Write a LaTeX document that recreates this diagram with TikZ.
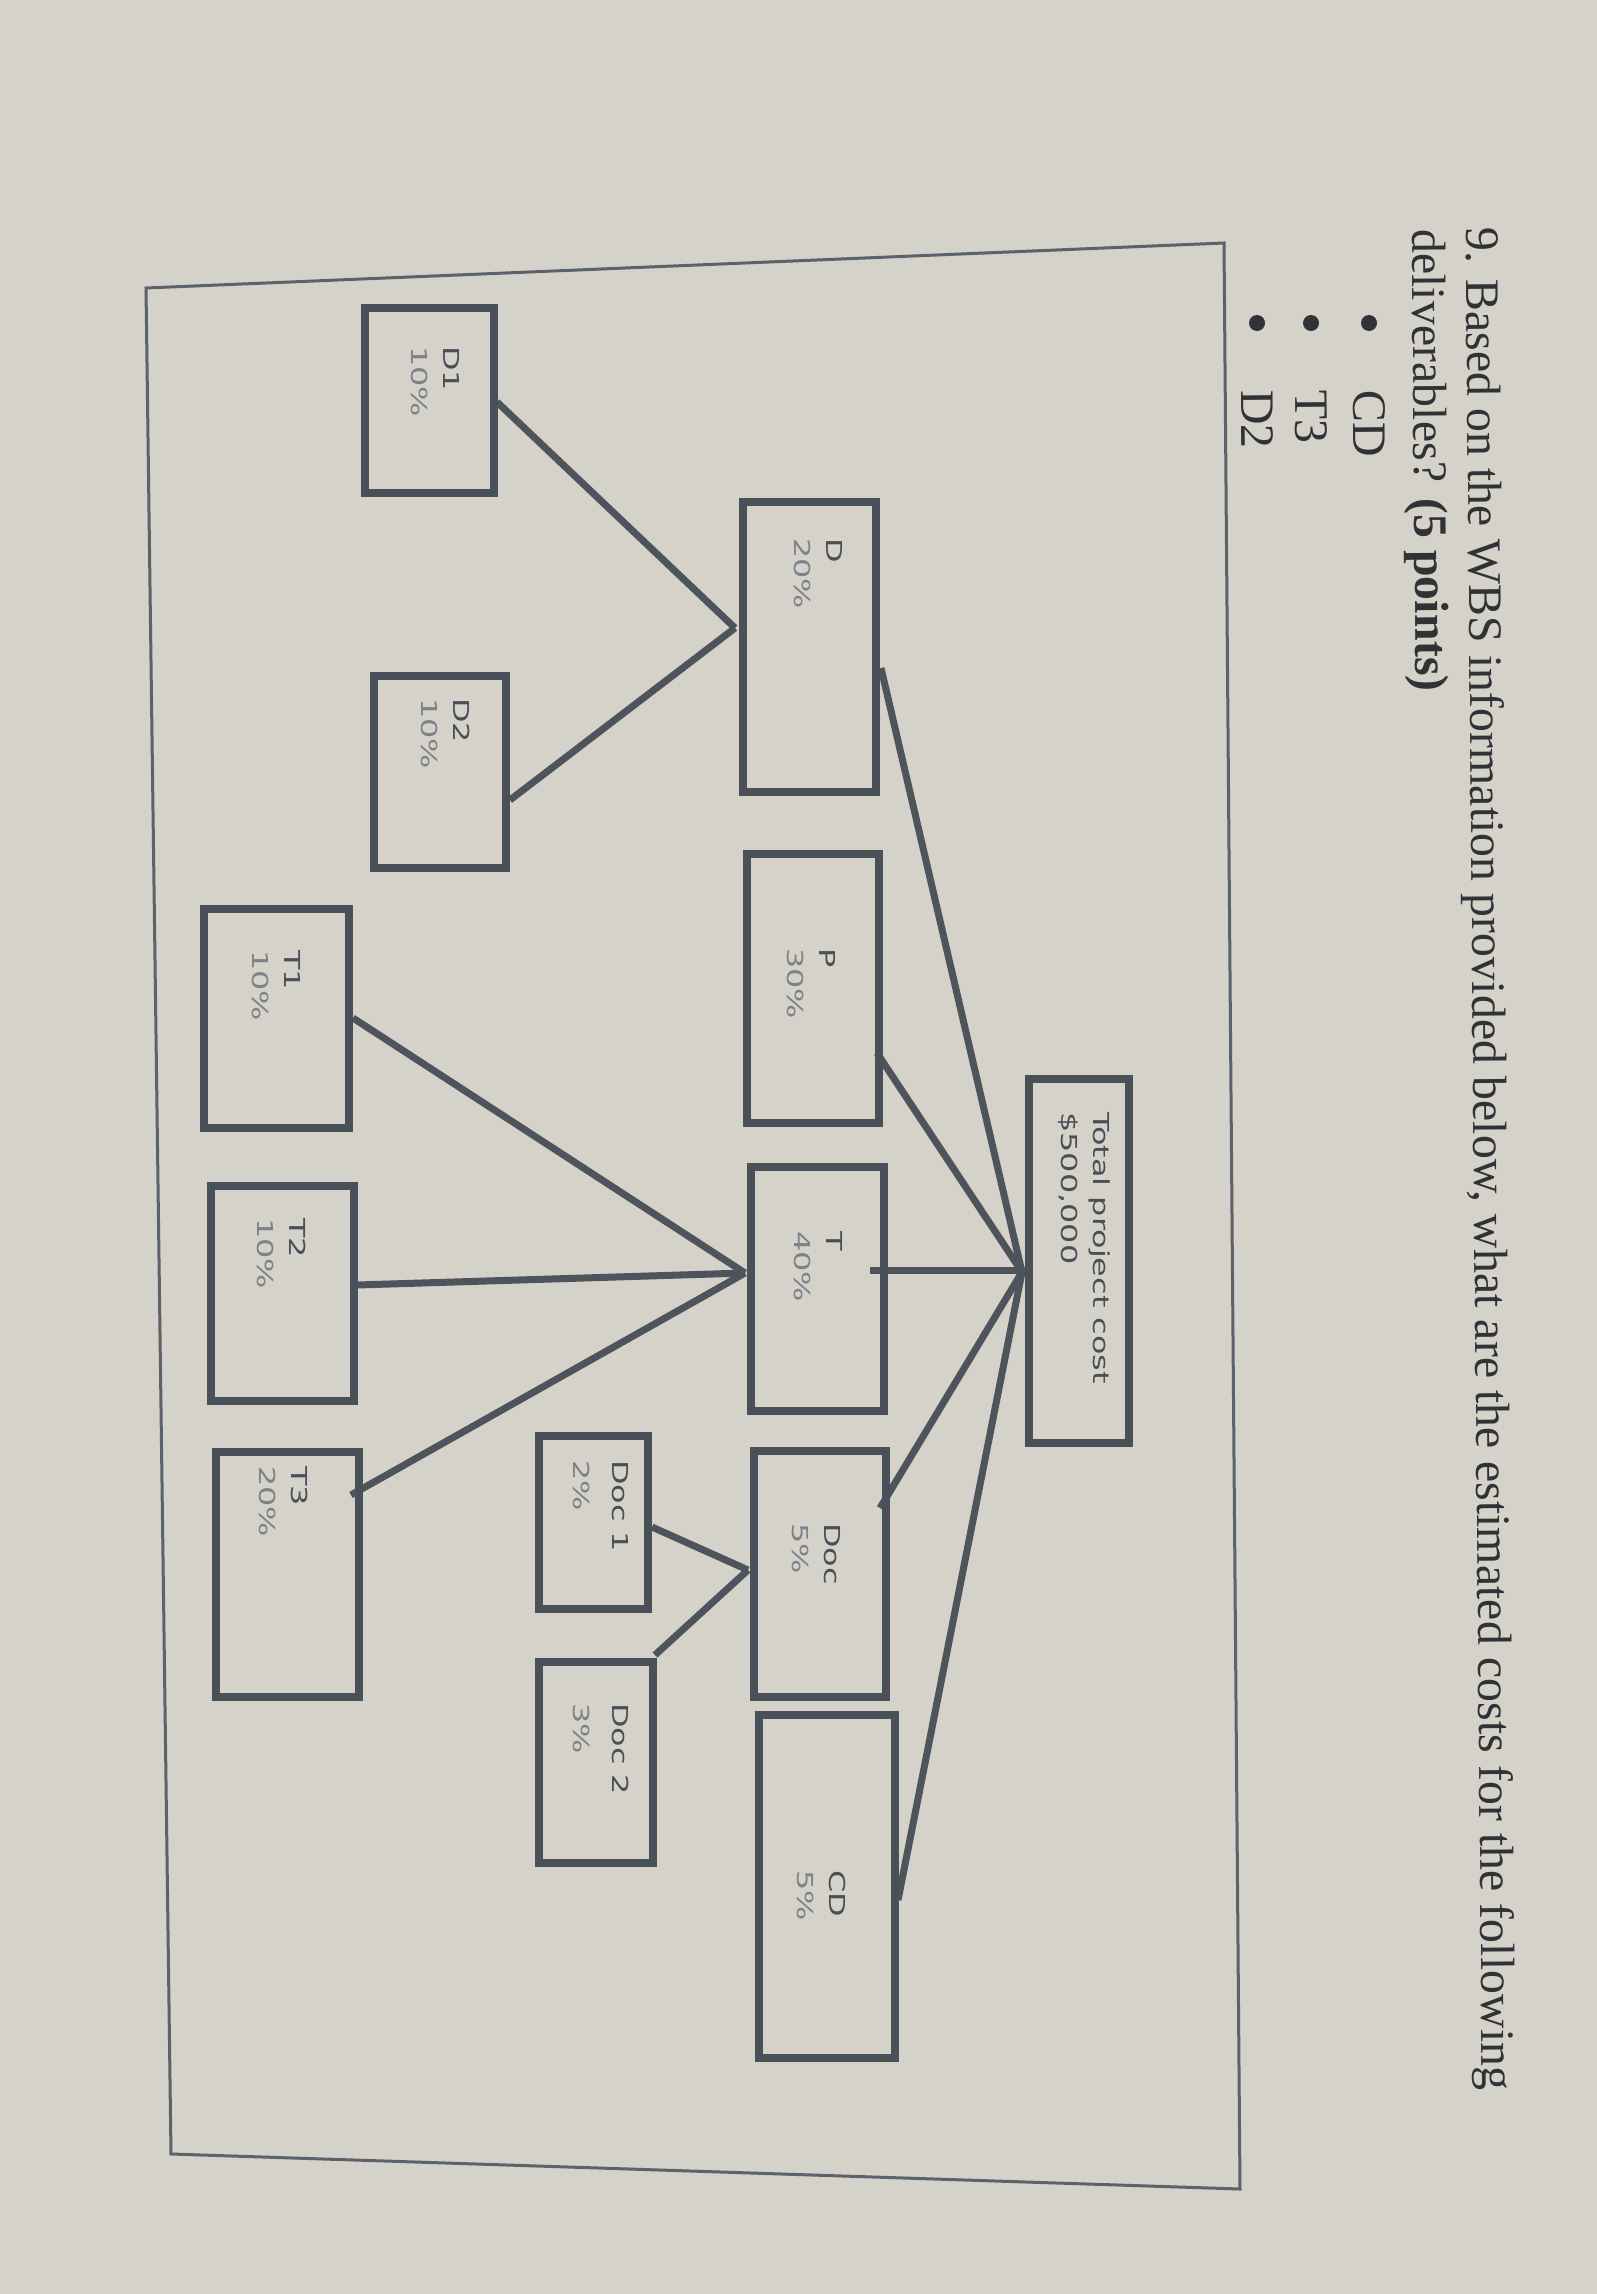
\documentclass[tikz,border=0pt]{standalone}
\usepackage{fontspec}
\setmainfont{Liberation Serif}
\newfontfamily\boxfont[FakeStretch=1.45]{DejaVu Sans}
\usetikzlibrary{fit}
\definecolor{bgc}{HTML}{D4D2C9}
\definecolor{boxc}{HTML}{4A5058}
\definecolor{linec}{HTML}{4E545C}
\definecolor{namec}{HTML}{4A4E55}
\definecolor{pctc}{HTML}{7E8288}
\definecolor{framec}{HTML}{5C626A}
\definecolor{qtext}{HTML}{303236}
\begin{document}
\begin{tikzpicture}[x=1pt,y=-1pt,
  wbsbox/.style={draw=boxc,line width=8pt,inner sep=-4pt},
  conn/.style={draw=linec,line width=7pt},
  lbl/.style={rotate=-90,anchor=north west,inner sep=0pt,align=left,
              font=\boxfont\fontsize{22}{32}\selectfont},
  lblwide/.style={lbl,font=\boxfont\fontsize{22}{39}\selectfont},
  qtxt/.style={rotate=-89.5,anchor=base west,inner sep=0pt,text=qtext,
               font=\fontsize{48}{54}\selectfont},
  bul/.style={circle,fill=qtext,inner sep=0pt,minimum size=16pt}]
\fill[bgc] (0,0) rectangle (1597,2294);
\useasboundingbox (0,0) rectangle (1597,2294);

% frame
\coordinate (f1) at (146,288);
\coordinate (f2) at (1224,243);
\coordinate (f3) at (1240,2189);
\coordinate (f4) at (171,2154);
\draw[framec,line width=3pt] (f1) -- (f2) -- (f3) -- (f4) -- cycle;

% question text
\node[qtxt] (q1) at (1466,227) {9. Based on the WBS information provided below, what are the estimated costs for the following};
\node[qtxt] (q2) at (1412,229) {deliverables? \textbf{(5 points)}};
\node[bul] (b1) at (1369,323) {};
\node[bul] (b2) at (1311,323) {};
\node[bul] (b3) at (1257,323) {};
\node[qtxt] (l1) at (1353,390) {CD};
\node[qtxt] (l2) at (1295,390) {T3};
\node[qtxt] (l3) at (1241,390) {D2};

% connection points
\coordinate (th) at (1022,1272);
\coordinate (Dp) at (881,668);
\coordinate (Pp) at (877,1053);
\coordinate (Tr) at (870,1270);
\coordinate (Tl) at (1026,1270);
\coordinate (Docp) at (880,1508);
\coordinate (CDp) at (898,1900);
\coordinate (dh) at (735,628);
\coordinate (D1p) at (497,402);
\coordinate (D2p) at (510,800);
\coordinate (tth) at (745,1273);
\coordinate (T1p) at (353,1018);
\coordinate (T2p) at (357,1285);
\coordinate (T3p) at (351,1495);
\coordinate (doh) at (748,1570);
\coordinate (Doc1p) at (652,1527);
\coordinate (Doc2p) at (655,1655);

% connectors
\draw[conn] (th) -- (Dp);
\draw[conn] (th) -- (Pp);
\draw[conn] (Tr) -- (Tl);
\draw[conn] (th) -- (Docp);
\draw[conn] (th) -- (CDp);
\draw[conn] (dh) -- (D1p);
\draw[conn] (dh) -- (D2p);
\draw[conn] (tth) -- (T1p);
\draw[conn] (tth) -- (T2p);
\draw[conn] (tth) -- (T3p);
\draw[conn] (doh) -- (Doc1p);
\draw[conn] (doh) -- (Doc2p);

% boxes
\node[wbsbox,fit={(1025,1075)(1133,1447)}] (Total) {};
\node[wbsbox,fit={(739,498)(880,796)}] (D) {};
\node[wbsbox,fit={(743,850)(883,1127)}] (P) {};
\node[wbsbox,fit={(747,1163)(888,1415)}] (T) {};
\node[wbsbox,fit={(750,1447)(890,1701)}] (Doc) {};
\node[wbsbox,fit={(755,1711)(899,2062)}] (CD) {};
\node[wbsbox,fit={(361,304)(498,497)}] (D1) {};
\node[wbsbox,fit={(370,672)(510,872)}] (D2) {};
\node[wbsbox,fit={(200,905)(353,1132)}] (T1) {};
\node[wbsbox,fit={(207,1182)(358,1405)}] (T2) {};
\node[wbsbox,fit={(212,1448)(363,1701)}] (T3) {};
\node[wbsbox,fit={(535,1432)(652,1613)}] (Doc1) {};
\node[wbsbox,fit={(535,1658)(657,1867)}] (Doc2) {};

% labels
\node[lbl] (Totalt) at (1110,1112) {{\color{namec}Total project cost}\\{\color{namec}\$500,000}};
\node[lbl] (Dt) at (843,538) {{\color{namec}D}\\{\color{pctc}20\%}};
\node[lbl] (Pt) at (836,948) {{\color{namec}P}\\{\color{pctc}30\%}};
\node[lbl] (Tt) at (843,1231) {{\color{namec}T}\\{\color{pctc}40\%}};
\node[lbl] (Doct) at (841,1523) {{\color{namec}Doc}\\{\color{pctc}5\%}};
\node[lbl] (CDt) at (846,1870) {{\color{namec}CD}\\{\color{pctc}5\%}};
\node[lbl] (D1t) at (460,346) {{\color{namec}D1}\\{\color{pctc}10\%}};
\node[lbl] (D2t) at (470,698) {{\color{namec}D2}\\{\color{pctc}10\%}};
\node[lbl] (T1t) at (301,950) {{\color{namec}T1}\\{\color{pctc}10\%}};
\node[lbl] (T2t) at (306,1218) {{\color{namec}T2}\\{\color{pctc}10\%}};
\node[lbl] (T3t) at (308,1466) {{\color{namec}T3}\\{\color{pctc}20\%}};
\node[lblwide] (Doc1t) at (629,1460) {{\color{namec}Doc 1}\\{\color{pctc}2\%}};
\node[lblwide] (Doc2t) at (629,1703) {{\color{namec}Doc 2}\\{\color{pctc}3\%}};
\end{tikzpicture}
\end{document}
